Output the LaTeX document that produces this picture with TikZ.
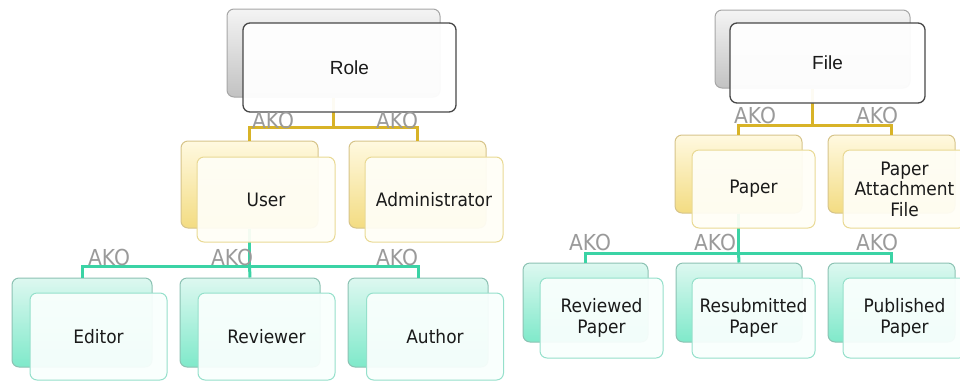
\documentclass[tikz,border=0pt]{standalone}
\usepackage{fontspec}
\setmainfont{DejaVu Sans}[FakeStretch=0.92]
\newfontfamily\arialf{Liberation Sans}
\definecolor{gbTop}{HTML}{F4F4F4}
\definecolor{gbBot}{HTML}{C2C2C2}
\definecolor{gbBd}{HTML}{A6A6A6}
\definecolor{gfBd}{HTML}{484848}
\definecolor{ybTop}{HTML}{FFF9E0}
\definecolor{ybBot}{HTML}{F3DC82}
\definecolor{ybBd}{HTML}{D6C48A}
\definecolor{yfBd}{HTML}{E9D994}
\definecolor{yfFill}{HTML}{FFFEF6}
\definecolor{tbTop}{HTML}{DDF8F0}
\definecolor{tbBot}{HTML}{7FE9CA}
\definecolor{tbBd}{HTML}{8CC2B3}
\definecolor{tfBd}{HTML}{95E0CB}
\definecolor{tfFill}{HTML}{F9FFFD}
\definecolor{yLine}{HTML}{D8B327}
\definecolor{tLine}{HTML}{3BD3A5}
\definecolor{akoC}{HTML}{9A9A9A}
\definecolor{txtC}{HTML}{1A1A1A}
\tikzset{
  box/.style={rectangle, rounded corners=7pt, line width=1pt, inner sep=0pt},
  grayback/.style={box, draw=gbBd, top color=gbTop, bottom color=gbBot},
  grayfront/.style={box, draw=gfBd, line width=1.3pt, fill=white, fill opacity=0.95, text opacity=1, text=txtC, font=\arialf\fontsize{19}{21}\selectfont},
  yelback/.style={box, draw=ybBd, top color=ybTop, bottom color=ybBot},
  yelfront/.style={box, draw=yfBd, fill=yfFill, fill opacity=0.94, text opacity=1, text=txtC, align=center, font=\fontsize{18.5}{20.5}\selectfont},
  tealback/.style={box, draw=tbBd, top color=tbTop, bottom color=tbBot},
  tealfront/.style={box, draw=tfBd, fill=tfFill, fill opacity=0.94, text opacity=1, text=txtC, align=center, font=\fontsize{18.5}{20.5}\selectfont},
  yconn/.style={draw=yLine, line width=3pt},
  tconn/.style={draw=tLine, line width=3pt},
  ako/.style={text=akoC, font=\fontsize{22}{24}\selectfont, inner sep=0pt},
}
\begin{document}
\begin{tikzpicture}[x=1pt,y=-1pt]
\useasboundingbox (0,0) rectangle (960,381);
% ---------- back boxes ----------
\node[grayback, minimum width=213pt, minimum height=88pt] (roleb) at (333.5,53) {};
\node[yelback, minimum width=137pt, minimum height=87pt] (userb) at (249.5,184.5) {};
\node[yelback, minimum width=137pt, minimum height=87pt] (adminb) at (417.5,184.5) {};
\node[tealback, minimum width=140pt, minimum height=89pt] (editorb) at (82,322.5) {};
\node[tealback, minimum width=140pt, minimum height=89pt] (reviewerb) at (250,322.5) {};
\node[tealback, minimum width=140pt, minimum height=89pt] (authorb) at (418,322.5) {};
\node[grayback, minimum width=195pt, minimum height=78pt] (fileb) at (812.5,49) {};
\node[yelback, minimum width=127pt, minimum height=78pt] (paperb) at (738.5,174) {};
\node[yelback, minimum width=127pt, minimum height=78pt] (pafb) at (891.5,174) {};
\node[tealback, minimum width=125pt, minimum height=79pt] (reviewedb) at (585.5,302.5) {};
\node[tealback, minimum width=126pt, minimum height=79pt] (resubb) at (739,302.5) {};
\node[tealback, minimum width=127pt, minimum height=79pt] (publishedb) at (891.5,302.5) {};
% ---------- connectors ----------
\coordinate (busA) at (333.5,127);
\coordinate (busB) at (249.5,266);
\coordinate (busC) at (812.5,125);
\coordinate (busD) at (738.5,253);
\draw[yconn] (roleb.south) -- (busA);
\draw[yconn] (userb.north) |- (busA) -| (adminb.north);
\draw[tconn] (userb.south) -- (busB);
\draw[tconn] (editorb.north) |- (busB) -| (authorb.north);
\draw[tconn] (busB) -- (reviewerb.north);
\draw[yconn] (fileb.south) -- (busC);
\draw[yconn] (paperb.north) |- (busC) -| (pafb.north);
\draw[tconn] (paperb.south) -- (busD);
\draw[tconn] (reviewedb.north) |- (busD) -| (publishedb.north);
\draw[tconn] (busD) -- (resubb.north);
% ---------- front boxes ----------
\node[grayfront, minimum width=213pt, minimum height=89pt] (rolef) at (349.5,67.5) {Role};
\node[yelfront, minimum width=138pt, minimum height=85pt] (userf) at (266,199.5) {User};
\node[yelfront, minimum width=138pt, minimum height=85pt] (adminf) at (434,199.5) {Administrator};
\node[tealfront, minimum width=137pt, minimum height=87pt] (editorf) at (98.5,336.5) {Editor};
\node[tealfront, minimum width=137pt, minimum height=87pt] (reviewerf) at (266.5,336.5) {Reviewer};
\node[tealfront, minimum width=137pt, minimum height=87pt] (authorf) at (435,336.5) {Author};
\node[grayfront, minimum width=195pt, minimum height=80pt] (filef) at (827.5,63) {File};
\node[yelfront, minimum width=123pt, minimum height=78pt] (paperf) at (753.5,189) {Paper};
\node[yelfront, minimum width=123pt, minimum height=78pt] (paff) at (904.5,189) {Paper\\Attachment\\File};
\node[tealfront, minimum width=123pt, minimum height=80pt] (reviewedf) at (601.5,318) {Reviewed\\Paper};
\node[tealfront, minimum width=123pt, minimum height=80pt] (resubf) at (753.5,318) {Resubmitted\\Paper};
\node[tealfront, minimum width=123pt, minimum height=80pt] (publishedf) at (904.5,318) {Published\\Paper};
% ---------- AKO labels ----------
\node[ako] (a1) at (273,120) {AKO};
\node[ako] (a2) at (397,120) {AKO};
\node[ako] (a3) at (109,257) {AKO};
\node[ako] (a4) at (232,257) {AKO};
\node[ako] (a5) at (397,257) {AKO};
\node[ako] (a6) at (755,115) {AKO};
\node[ako] (a7) at (877,115) {AKO};
\node[ako] (a8) at (590,242) {AKO};
\node[ako] (a9) at (715,242) {AKO};
\node[ako] (a10) at (877,242) {AKO};
\end{tikzpicture}
\end{document}
